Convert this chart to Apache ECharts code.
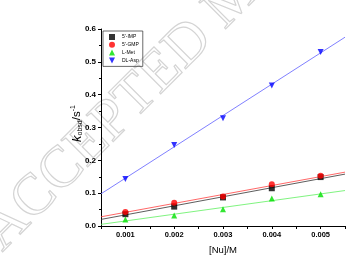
<!DOCTYPE html>
<html><head><meta charset="utf-8">
<script src="https://cdn.jsdelivr.net/npm/echarts@6/dist/echarts.min.js"></script>
<style>html,body{margin:0;padding:0;background:#fff}#c{width:362px;height:260px}</style>
</head><body><div id="c"></div>
<script>
var conc = [0.001, 0.002, 0.003, 0.004, 0.005];
var imp = [0.036, 0.059, 0.087, 0.115, 0.149];
var gmp = [0.043, 0.071, 0.090, 0.127, 0.153];
var met = [0.020, 0.032, 0.051, 0.084, 0.097];
var asp = [0.143, 0.247, 0.328, 0.428, 0.530];
// fitted line endpoints (x at axis ends)
var fitX = [0.0005, 0.0055];
var impFit = [0.020, 0.158];
var gmpFit = [0.028, 0.164];
var metFit = [0.005, 0.108];
var aspFit = [0.098, 0.575];
var names = ["5'-IMP", "5'-GMP", "L-Met", "DL-Asp"];
var colors = ['#000000', '#ff0000', '#00e000', '#0000ff'];
var lineColors = ['#333333', '#ff4040', '#60f060', '#6060ff'];
var symbols = ['rect', 'circle', 'triangle', 'path://M0,0 L10,0 L5,10 Z'];
var values = [imp, gmp, met, asp];
var fits = [impFit, gmpFit, metFit, aspFit];

function pts(ys, xs) { return xs.map(function (x, i) { return [x, ys[i]]; }); }

var series = [];
fits.forEach(function (f, i) {
  series.push({
    type: 'line', name: names[i] + ' fit', data: pts(f, fitX), symbol: 'none', silent: true,
    lineStyle: { color: lineColors[i], width: 0.8 }, z: 2
  });
});
values.forEach(function (v, i) {
  series.push({
    type: 'scatter', name: names[i], data: pts(v, conc), symbol: symbols[i],
    symbolSize: 6, itemStyle: { color: colors[i] }, z: 5
  });
});

var chart = echarts.init(document.getElementById('c'));
chart.setOption({
  animation: false,
  backgroundColor: '#fff',
  grid: { left: 101, right: 17, top: 29, bottom: 34 },
  legend: {
    data: names, orient: 'vertical', left: 103, top: 31,
    itemWidth: 6, itemHeight: 6, itemGap: 1.8,
    borderColor: '#444', borderWidth: 0.8, padding: [3, 4, 3, 6],
    textStyle: { fontSize: 5, fontFamily: 'Liberation Sans', color: '#000', padding: [0, 0, 0, 2] }
  },
  graphic: [{
    type: 'text', rotation: Math.PI * 45 / 180, silent: true, z: -10,
    x: 12, y: 262,
    style: { text: 'ACCEPTED MANUSCRIPT', fontSize: 58, fontFamily: 'Liberation Serif', verticalAlign: 'bottom', fill: 'rgba(0,0,0,0)', stroke: '#d4d4d4', lineWidth: 1.2 }
  }],
  xAxis: {
    type: 'value', min: 0.0005, max: 0.0055, interval: 0.0005,
    name: '[Nu]/M', nameLocation: 'middle', nameGap: 19,
    nameTextStyle: { fontSize: 9.5, fontFamily: 'Liberation Sans', color: '#000' },
    axisLine: { onZero: false, lineStyle: { color: '#000', width: 1 } },
    axisTick: { length: 3, lineStyle: { color: '#000' } },
    axisLabel: {
      fontSize: 7.5, fontWeight: 'bold', fontFamily: 'Liberation Sans', color: '#000', margin: 5,
      formatter: function (v) { var k = Math.round(v * 10000); return (k % 10 === 0) ? (k / 10000).toFixed(3) : ''; }
    },
    splitLine: { show: false }
  },
  yAxis: {
    type: 'value', min: 0, max: 0.6, interval: 0.1,
    name: '{k|k}{sub|obsd}{n|/s}{sup|-1}', nameLocation: 'middle', nameGap: 17, nameRotate: 90,
    nameMoveOverlap: false,
    nameTextStyle: {
      color: '#000', fontFamily: 'Liberation Sans', padding: [0, 0, 0, 8],
      rich: {
        k: { fontSize: 13, fontStyle: 'italic', fontFamily: 'Liberation Sans', color: '#000' },
        sub: { fontSize: 7, fontFamily: 'Liberation Sans', color: '#000', verticalAlign: 'bottom', padding: [6, 0, 0, 0] },
        n: { fontSize: 11.5, fontFamily: 'Liberation Sans', color: '#000' },
        sup: { fontSize: 7, fontFamily: 'Liberation Sans', color: '#000', verticalAlign: 'top', padding: [0, 0, 7, 0] }
      }
    },
    axisLine: { show: true, lineStyle: { color: '#000', width: 1 } },
    axisTick: { show: true, length: 3, lineStyle: { color: '#000' } },
    minorTick: { show: true, splitNumber: 2, length: 2, lineStyle: { color: '#000' } },
    axisLabel: {
      fontSize: 8, fontWeight: 'bold', fontFamily: 'Liberation Sans', color: '#000', margin: 5,
      formatter: function (v) { return v.toFixed(1); }
    },
    splitLine: { show: false }
  },
  series: series
});
</script></body></html>
